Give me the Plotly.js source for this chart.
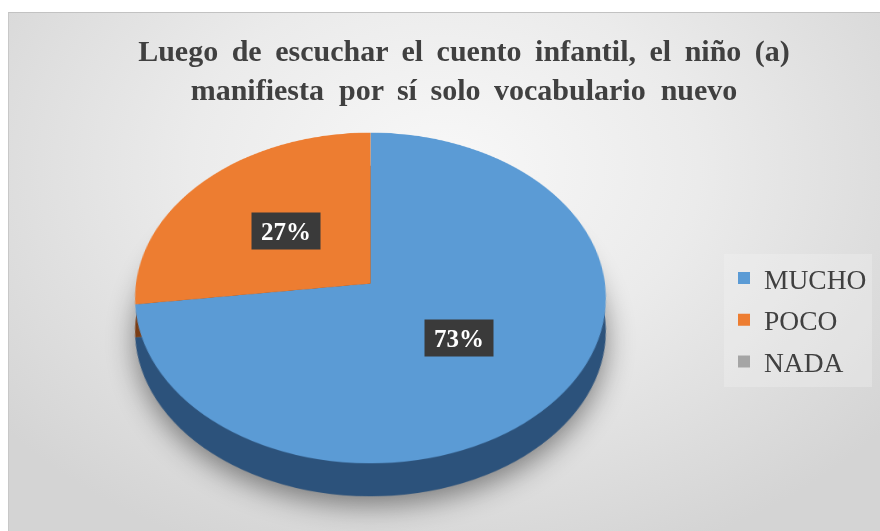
<!DOCTYPE html>
<html><head><meta charset="utf-8">
<script src="https://cdn.plot.ly/plotly-3.0.1.min.js"></script>
<style>
html,body{margin:0;padding:0;background:#fff;width:880px;height:531px;overflow:hidden;}
#bg{position:absolute;left:8px;top:12px;width:872px;height:519px;box-sizing:border-box;
 background:radial-gradient(ellipse 65% 80% at 50% 30%, #f8f8f8 0%, #ebebeb 45%, #d4d4d4 100%);
 border-top:1px solid #c2c2c2;border-left:1px solid #c8c8c8;}
#shadowwrap{position:absolute;left:0;top:0;width:880px;height:531px;filter:drop-shadow(0 9px 14px rgba(0,0,0,0.45));}
.pie{position:absolute;transform-origin:50% 50%;}
#main{position:absolute;left:0;top:0;width:880px;height:531px;}
</style></head>
<body>
<div id="bg"></div>
<div id="shadowwrap"><div id="side" class="pie"></div></div>
<div id="top" class="pie"></div>
<div id="main"></div>
<script>
// ---- data ----
const categories = ['MUCHO', 'POCO', 'NADA'];
const values = [73, 27, 0];
const colors = ['#5b9bd5', '#ed7d31', '#a5a5a5'];
const sideColors = ['#2c527b', '#7a3d15', '#6b6b6b'];
const titleLines = [
  'Luego \u2009de \u2009escuchar \u2009el \u2009cuento \u2009infantil, \u2009el \u2009niño \u2009(a)',
  'manifiesta \u00a0por \u2009sí \u2009solo \u2009vocabulario \u00a0nuevo'
];

// ---- 3D geometry (styling) ----
const W = 880, H = 531;
const R = 234.5, CX = 370, CY = 283, D = 1912, TILT = 45.6, DEPTH = 33, LABEL_F = 0.49;

const size = 2 * R;
['side', 'top'].forEach(id => {
  const el = document.getElementById(id);
  el.style.width = size + 'px'; el.style.height = size + 'px';
  el.style.left = (CX - R) + 'px'; el.style.top = (CY - R) + 'px';
  el.style.transform = (id === 'side' ? 'translateY(' + DEPTH + 'px) ' : '') +
    'perspective(' + D + 'px) rotateX(' + TILT + 'deg)';
});

function pieTrace(cols) {
  return {
    type: 'pie', labels: categories, values: values, sort: false,
    direction: 'clockwise', rotation: 0, textinfo: 'none', hoverinfo: 'none',
    showlegend: false, marker: {colors: cols, line: {width: 0}}
  };
}
const pieLayout = {width: size, height: size, margin: {l: 0, r: 0, t: 0, b: 0},
  paper_bgcolor: 'rgba(0,0,0,0)', plot_bgcolor: 'rgba(0,0,0,0)', showlegend: false};
const cfg = {staticPlot: true, displayModeBar: false};
Plotly.newPlot('side', [pieTrace(sideColors)], pieLayout, cfg);
Plotly.newPlot('top', [pieTrace(colors)], pieLayout, cfg);

// project a point of the pie plane into the page
function project(px, py) {
  const a = TILT * Math.PI / 180;
  const y = py * Math.cos(a), z = py * Math.sin(a);
  const s = D / (D - z);
  return [CX + px * s, CY + y * s];
}

const total = values.reduce((a, b) => a + b, 0);
const annotations = [];
let cum = 0;
values.forEach((v, i) => {
  if (v > 0) {
    const mid = (cum + v / 2) / total * 2 * Math.PI;
    const p = project(R * LABEL_F * Math.sin(mid), -R * LABEL_F * Math.cos(mid));
    annotations.push({
      xref: 'paper', yref: 'paper', x: p[0] / W, y: 1 - p[1] / H,
      xanchor: 'center', yanchor: 'middle', showarrow: false,
      text: '<b>' + Math.round(v / total * 100) + '%</b>',
      font: {family: 'Liberation Serif', size: 25, color: '#ffffff'},
      bgcolor: '#3a3a3a', width: 68, height: 36, borderpad: 0
    });
  }
  cum += v;
});

const legendTraces = categories.map((c, i) => ({
  type: 'scatter', mode: 'markers', x: [null], y: [null], name: c,
  legendgroup: 'g' + i,
  marker: {symbol: 'square', size: 12, color: colors[i], line: {width: 0}}
}));

Plotly.newPlot('main', legendTraces, {
  width: W, height: H, margin: {l: 0, r: 0, t: 0, b: 0},
  paper_bgcolor: 'rgba(0,0,0,0)', plot_bgcolor: 'rgba(0,0,0,0)',
  xaxis: {visible: false, range: [0, 1]}, yaxis: {visible: false, range: [0, 1]},
  title: {text: '<b>' + titleLines.join('<br>') + '</b>',
    font: {family: 'Liberation Serif', size: 30, color: '#404040'},
    x: 464 / W, xanchor: 'center', y: 1 - 61 / H, yanchor: 'top', xref: 'container', yref: 'container'},
  showlegend: true,
  legend: {x: 724 / W, xanchor: 'left', y: 1 - 320 / H, yanchor: 'middle',
    traceorder: 'grouped', tracegroupgap: 3,
    font: {family: 'Liberation Serif', size: 27.5, color: '#404040'},
    bgcolor: 'rgba(245,245,245,0.3)', borderwidth: 0},
  annotations: annotations
}, cfg);
</script>
</body></html>
